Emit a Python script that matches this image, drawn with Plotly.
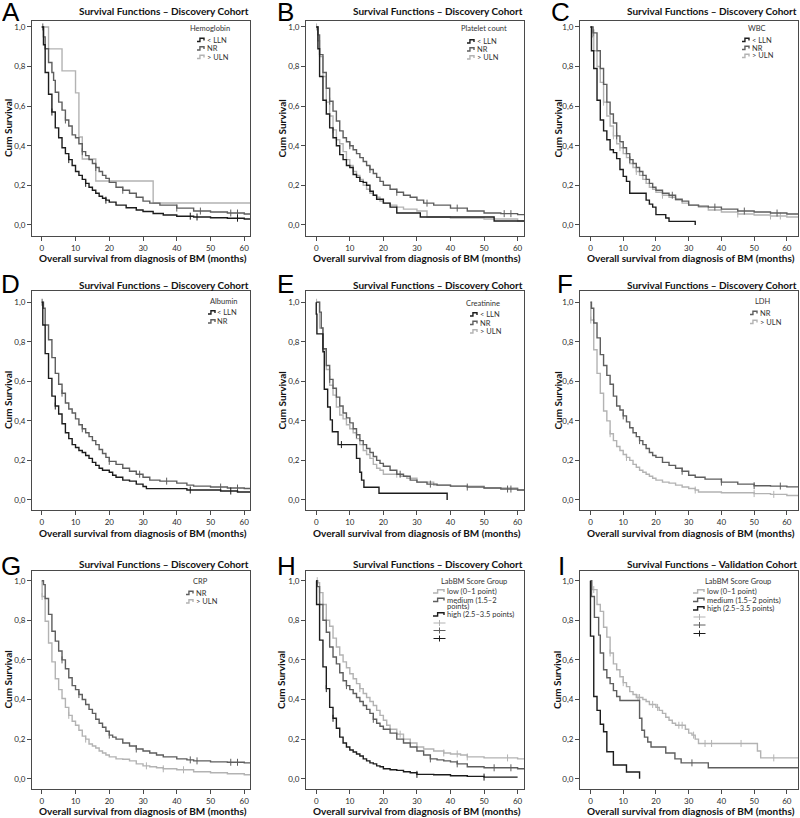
import plotly.graph_objects as go

W, H = 800, 818

# ---------------- data ----------------
Y_TICKS = [0.0, 0.2, 0.4, 0.6, 0.8, 1.0]
Y_TICK_TEXT = ["0,0", "0,2", "0,4", "0,6", "0,8", "1,0"]
X_TICKS = [0, 10, 20, 30, 40, 50, 60]
X_TICK_TEXT = ["0", "10", "20", "30", "40", "50", "60"]

PANEL_LETTERS = ["A", "B", "C", "D", "E", "F", "G", "H", "I"]
PANEL_TITLES = ["Survival Functions – Discovery Cohort"] * 8 + ["Survival Functions – Validation Cohort"]
LEGEND_TITLES = ["Hemoglobin", "Platelet count", "WBC", "Albumin", "Creatinine", "LDH", "CRP",
                 "LabBM Score Group", "LabBM Score Group"]
X_TITLE = "Overall survival from diagnosis of BM (months)"
Y_TITLE = "Cum Survival"

# A - Hemoglobin (t = step times in months, s = cumulative survival, c = censored times)
A_lln_t = [0, 0.5, 1, 2, 3, 4, 5, 6, 7, 8, 9, 10, 11, 12, 13, 14, 15, 16, 17, 18, 19, 20, 22, 25, 28, 30, 33, 36, 40, 45, 50, 55, 60, 63]
A_lln_s = [1.0, 0.91, 0.77, 0.66, 0.57, 0.49, 0.44, 0.39, 0.36, 0.33, 0.30, 0.27, 0.25, 0.23, 0.21, 0.19, 0.175, 0.16, 0.145, 0.135, 0.125, 0.115, 0.10, 0.087, 0.075, 0.068, 0.058, 0.05, 0.044, 0.04, 0.036, 0.034, 0.03, 0.03]
A_lln_c = [3, 8, 13, 19, 44, 46, 58]
A_nr_t = [0, 0.5, 1, 2, 3, 3.5, 4, 5, 6, 7, 8, 9, 10, 11, 12, 13, 14, 15, 16, 17, 18, 19, 20, 22, 24, 26, 28, 30, 32, 35, 40, 45, 50, 55, 60, 63]
A_nr_s = [1.0, 0.95, 0.89, 0.82, 0.77, 0.73, 0.67, 0.62, 0.58, 0.53, 0.50, 0.455, 0.44, 0.41, 0.37, 0.35, 0.33, 0.31, 0.29, 0.27, 0.25, 0.235, 0.215, 0.19, 0.175, 0.16, 0.14, 0.12, 0.11, 0.10, 0.085, 0.07, 0.065, 0.06, 0.055, 0.05]
A_nr_c = [0.3, 7, 12, 16, 24, 40, 47, 56, 58]
A_uln_t = [0, 2, 6, 10, 11, 12, 16, 33, 63]
A_uln_s = [1.0, 0.889, 0.778, 0.667, 0.444, 0.333, 0.222, 0.111, 0.111]
A_uln_c = []

# B - Platelet count
B_lln_t = [0, 0.5, 1, 2, 3, 4, 5, 6, 7, 8, 9, 10, 11, 12, 13, 14, 15, 16, 17, 18, 20, 22, 24, 31, 53, 63]
B_lln_s = [1.0, 0.89, 0.75, 0.63, 0.56, 0.49, 0.44, 0.40, 0.355, 0.33, 0.30, 0.29, 0.255, 0.24, 0.22, 0.215, 0.20, 0.17, 0.15, 0.13, 0.11, 0.09, 0.06, 0.04, 0.02, 0.02]
B_lln_c = []
B_nr_t = [0, 0.5, 1, 2, 3, 4, 5, 6, 7, 8, 9, 10, 11, 12, 13, 14, 15, 16, 17, 18, 19, 20, 22, 24, 26, 28, 30, 32, 35, 40, 45, 50, 55, 60, 63]
B_nr_s = [1.0, 0.96, 0.86, 0.77, 0.69, 0.625, 0.575, 0.525, 0.475, 0.44, 0.42, 0.40, 0.38, 0.36, 0.34, 0.32, 0.30, 0.28, 0.26, 0.24, 0.22, 0.20, 0.18, 0.165, 0.15, 0.14, 0.125, 0.11, 0.10, 0.085, 0.07, 0.06, 0.057, 0.052, 0.05]
B_nr_c = [4, 10, 16, 24, 33, 42, 56, 58]
B_uln_t = [0, 0.5, 1, 2, 3, 4, 5, 6, 7, 8, 9, 10, 11, 12, 13, 14, 15, 16, 17, 18, 19, 20, 22, 24, 26, 30, 33, 40, 50, 60, 63]
B_uln_s = [1.0, 0.93, 0.85, 0.75, 0.62, 0.55, 0.48, 0.43, 0.41, 0.37, 0.33, 0.30, 0.27, 0.25, 0.23, 0.20, 0.18, 0.16, 0.15, 0.14, 0.12, 0.11, 0.10, 0.09, 0.08, 0.07, 0.04, 0.035, 0.03, 0.02, 0.02]
B_uln_c = [0.1, 5]

# C - WBC
C_lln_t = [0, 0.3, 1, 2, 3, 4, 5, 6, 7, 8, 9, 10, 11, 12, 17, 18, 19, 20, 23, 24, 32]
C_lln_s = [1.0, 0.88, 0.79, 0.63, 0.53, 0.475, 0.43, 0.38, 0.365, 0.335, 0.28, 0.245, 0.22, 0.16, 0.125, 0.105, 0.09, 0.052, 0.035, 0.018, 0.0]
C_lln_c = []
C_nr_t = [0, 0.8, 2, 3, 4, 5, 6, 7, 8, 9, 10, 11, 12, 13, 14, 15, 16, 17, 18, 19, 20, 22, 24, 26, 28, 30, 33, 36, 40, 45, 50, 55, 60, 64]
C_nr_s = [1.0, 0.97, 0.88, 0.79, 0.71, 0.62, 0.56, 0.515, 0.45, 0.42, 0.39, 0.36, 0.33, 0.31, 0.29, 0.27, 0.25, 0.23, 0.21, 0.19, 0.175, 0.16, 0.15, 0.13, 0.12, 0.10, 0.095, 0.09, 0.08, 0.07, 0.065, 0.06, 0.055, 0.05]
C_nr_c = [1, 8, 12, 25, 38, 47, 57]
C_uln_t = [0, 0.5, 1, 2, 3, 4, 5, 6, 7, 8, 9, 10, 11, 12, 13, 14, 15, 16, 17, 18, 19, 20, 22, 24, 26, 28, 30, 33, 36, 40, 45, 50, 55, 60, 64]
C_uln_s = [1.0, 0.95, 0.88, 0.80, 0.72, 0.62, 0.55, 0.50, 0.45, 0.41, 0.39, 0.36, 0.34, 0.31, 0.29, 0.27, 0.25, 0.23, 0.21, 0.19, 0.18, 0.165, 0.15, 0.14, 0.125, 0.11, 0.10, 0.09, 0.075, 0.065, 0.055, 0.05, 0.045, 0.04, 0.04]
C_uln_c = [4, 7, 9, 14, 22, 45, 55, 58]

# D - Albumin
D_lln_t = [0, 0.3, 1, 2, 3, 4, 5, 6, 7, 8, 9, 10, 11, 12, 13, 14, 15, 16, 17, 18, 20, 21, 22, 24, 26, 28, 30, 31, 43, 53, 58, 63]
D_lln_s = [1.0, 0.885, 0.74, 0.615, 0.525, 0.475, 0.435, 0.385, 0.34, 0.31, 0.28, 0.265, 0.25, 0.24, 0.225, 0.21, 0.19, 0.175, 0.16, 0.15, 0.14, 0.125, 0.115, 0.10, 0.095, 0.08, 0.068, 0.057, 0.05, 0.045, 0.04, 0.04]
D_lln_c = [4, 44, 56]
D_nr_t = [0, 0.5, 1, 2, 3, 4, 5, 6, 7, 8, 9, 10, 11, 12, 13, 14, 15, 16, 17, 18, 19, 20, 22, 24, 26, 28, 30, 32, 35, 40, 43, 45, 50, 55, 60, 63]
D_nr_s = [1.0, 0.97, 0.885, 0.81, 0.72, 0.64, 0.585, 0.54, 0.49, 0.46, 0.44, 0.41, 0.38, 0.36, 0.34, 0.32, 0.30, 0.28, 0.255, 0.235, 0.215, 0.195, 0.18, 0.16, 0.145, 0.13, 0.115, 0.10, 0.095, 0.085, 0.075, 0.07, 0.065, 0.06, 0.058, 0.055]
D_nr_c = [0.1, 6, 12, 20, 29, 37, 53, 58]

# E - Creatinine
E_lln_t = [0, 0, 0.2, 2, 2.4, 3.4, 4.2, 4.8, 6.5, 12, 13, 13.5, 14.2, 18.7, 39]
E_lln_s = [1.0, 0.94, 0.84, 0.75, 0.56, 0.47, 0.405, 0.345, 0.28, 0.21, 0.14, 0.10, 0.064, 0.034, 0.0]
E_lln_c = [7.5]
E_nr_t = [0, 1, 1.5, 2, 3, 4, 5, 6, 7, 8, 9, 10, 11, 12, 13, 14, 15, 16, 17, 18, 19, 20, 22, 24, 26, 28, 30, 33, 36, 40, 45, 50, 55, 60, 63]
E_nr_s = [1.0, 0.95, 0.87, 0.765, 0.68, 0.61, 0.565, 0.52, 0.475, 0.44, 0.415, 0.39, 0.36, 0.33, 0.30, 0.28, 0.26, 0.24, 0.22, 0.20, 0.185, 0.17, 0.15, 0.13, 0.12, 0.10, 0.09, 0.08, 0.075, 0.07, 0.065, 0.06, 0.055, 0.05, 0.045]
E_nr_c = [4, 12, 25, 34, 45, 57, 58]
E_uln_t = [0, 1, 2, 3, 4, 5, 6, 7, 8, 9, 10, 11, 12, 13, 14, 15, 16, 17, 18, 19, 20, 25, 27, 30, 35, 40, 50, 60, 63]
E_uln_s = [1.0, 0.87, 0.76, 0.66, 0.58, 0.53, 0.47, 0.43, 0.41, 0.38, 0.36, 0.34, 0.31, 0.28, 0.25, 0.23, 0.21, 0.18, 0.16, 0.15, 0.13, 0.12, 0.11, 0.09, 0.075, 0.07, 0.06, 0.05, 0.045]
E_uln_c = [0.1, 24]

# F - LDH
F_nr_t = [0, 0.3, 1, 2, 3, 4, 5, 6, 7, 8, 9, 10, 11, 12, 13, 14, 15, 16, 17, 18, 19, 20, 22, 24, 26, 28, 30, 32, 35, 40, 45, 50, 55, 60, 64]
F_nr_s = [1.0, 0.97, 0.895, 0.82, 0.735, 0.68, 0.63, 0.585, 0.525, 0.475, 0.455, 0.425, 0.395, 0.365, 0.34, 0.32, 0.30, 0.28, 0.26, 0.24, 0.225, 0.215, 0.19, 0.175, 0.16, 0.145, 0.125, 0.115, 0.105, 0.09, 0.08, 0.072, 0.07, 0.066, 0.063]
F_nr_c = [10, 15, 28, 40, 50, 58]
F_uln_t = [0, 0.1, 1, 2, 3, 4, 5, 6, 7, 8, 9, 10, 11, 12, 13, 14, 15, 16, 17, 18, 19, 20, 22, 24, 26, 28, 30, 32, 33, 40, 50, 55, 60, 64]
F_uln_s = [1.0, 0.91, 0.76, 0.64, 0.54, 0.45, 0.40, 0.335, 0.30, 0.27, 0.25, 0.23, 0.215, 0.20, 0.18, 0.165, 0.15, 0.14, 0.13, 0.12, 0.11, 0.10, 0.09, 0.085, 0.075, 0.065, 0.058, 0.05, 0.04, 0.036, 0.032, 0.028, 0.022, 0.02]
F_uln_c = [0.1, 6, 11, 32, 50, 56]

# G - CRP
G_nr_t = [0, 0.5, 1, 2, 3, 4, 5, 6, 7, 8, 9, 10, 11, 12, 13, 14, 15, 16, 17, 18, 19, 20, 21, 22, 24, 26, 28, 30, 32, 34, 36, 40, 43, 45, 50, 55, 60, 63]
G_nr_s = [1.0, 0.98, 0.91, 0.83, 0.745, 0.695, 0.645, 0.60, 0.555, 0.51, 0.47, 0.45, 0.425, 0.40, 0.375, 0.35, 0.33, 0.30, 0.28, 0.26, 0.24, 0.22, 0.21, 0.20, 0.18, 0.165, 0.15, 0.14, 0.13, 0.12, 0.11, 0.10, 0.095, 0.09, 0.085, 0.083, 0.08, 0.075]
G_nr_c = [6, 11, 20, 28, 44, 46, 56, 58]
G_uln_t = [0, 0.1, 1, 2, 3, 4, 5, 6, 7, 8, 9, 10, 11, 12, 13, 14, 15, 16, 17, 18, 19, 20, 22, 24, 26, 28, 30, 32, 34, 36, 40, 45, 50, 55, 60, 63]
G_uln_s = [1.0, 0.92, 0.795, 0.685, 0.59, 0.505, 0.45, 0.405, 0.36, 0.32, 0.29, 0.27, 0.245, 0.215, 0.20, 0.175, 0.165, 0.155, 0.14, 0.13, 0.12, 0.11, 0.10, 0.098, 0.09, 0.075, 0.065, 0.06, 0.055, 0.05, 0.045, 0.035, 0.03, 0.025, 0.02, 0.018]
G_uln_c = [0.1, 8, 13, 31, 36, 42]

# H - LabBM score, discovery
H_low_t = [0, 0.5, 1, 2, 3, 4, 5, 6, 7, 8, 9, 10, 11, 12, 13, 14, 15, 16, 17, 18, 19, 20, 21, 22, 24, 26, 28, 30, 32, 35, 38, 40, 43, 45, 50, 55, 60, 63]
H_low_s = [1.0, 0.99, 0.94, 0.88, 0.80, 0.77, 0.71, 0.665, 0.625, 0.59, 0.56, 0.53, 0.505, 0.48, 0.455, 0.43, 0.41, 0.39, 0.37, 0.345, 0.32, 0.295, 0.27, 0.25, 0.225, 0.20, 0.18, 0.16, 0.15, 0.14, 0.13, 0.125, 0.12, 0.11, 0.105, 0.105, 0.10, 0.10]
H_low_c = [0.3, 3, 13, 25, 38, 42, 45, 57]
H_med_t = [0, 0.3, 1, 2, 3, 4, 5, 6, 7, 8, 9, 10, 11, 12, 13, 14, 15, 16, 17, 18, 19, 20, 22, 24, 26, 28, 30, 32, 34, 36, 38, 40, 42, 45, 50, 55, 60, 63]
H_med_s = [1.0, 0.97, 0.88, 0.80, 0.74, 0.665, 0.615, 0.58, 0.535, 0.495, 0.47, 0.45, 0.43, 0.41, 0.39, 0.37, 0.35, 0.33, 0.30, 0.28, 0.265, 0.25, 0.23, 0.20, 0.18, 0.16, 0.14, 0.12, 0.10, 0.095, 0.09, 0.085, 0.075, 0.06, 0.055, 0.055, 0.05, 0.045]
H_med_c = [1, 9, 17, 34, 42, 53, 58]
H_high_t = [0, 0.1, 1, 2, 3, 4, 5, 6, 7, 8, 9, 10, 11, 12, 13, 14, 15, 16, 17, 18, 19, 20, 22, 24, 26, 28, 30, 35, 40, 45, 50, 60]
H_high_s = [1.0, 0.88, 0.70, 0.565, 0.455, 0.36, 0.305, 0.255, 0.21, 0.18, 0.16, 0.145, 0.135, 0.125, 0.115, 0.10, 0.09, 0.08, 0.075, 0.065, 0.06, 0.05, 0.045, 0.042, 0.035, 0.03, 0.022, 0.02, 0.015, 0.012, 0.008, 0.008]
H_high_c = [3, 5, 30, 50]

# I - LabBM score, validation
I_low_t = [0, 0.5, 2, 3, 4, 5, 6, 7, 8, 9, 10, 11, 12, 13, 14, 16, 17, 18, 20, 21, 22, 23, 24, 25, 26, 29, 30, 31, 32, 33, 51, 52, 64]
I_low_s = [1.0, 0.955, 0.88, 0.845, 0.765, 0.715, 0.635, 0.58, 0.55, 0.515, 0.485, 0.465, 0.44, 0.425, 0.41, 0.40, 0.39, 0.375, 0.36, 0.345, 0.33, 0.31, 0.295, 0.28, 0.27, 0.25, 0.23, 0.22, 0.20, 0.178, 0.14, 0.105, 0.105]
I_low_c = [1, 6, 10, 14.5, 15, 19, 20.5, 27, 28, 31.5, 35, 37, 46, 56]
I_med_t = [0, 0.3, 1.2, 2.5, 3, 4, 5, 6, 7, 8, 9, 15, 15.7, 16.5, 17.5, 18.5, 23, 25.8, 27.7, 36, 64]
I_med_s = [1.0, 0.92, 0.815, 0.725, 0.635, 0.55, 0.51, 0.48, 0.445, 0.415, 0.395, 0.305, 0.245, 0.21, 0.185, 0.16, 0.13, 0.10, 0.08, 0.055, 0.055]
I_med_c = [31]
I_high_t = [0, 0, 1, 2, 3, 4, 5, 7, 11, 15]
I_high_s = [1.0, 0.72, 0.415, 0.345, 0.275, 0.237, 0.136, 0.069, 0.034, 0.0]
I_high_c = []

# ---------------- styling ----------------
BLACK = "#1c1c1c"
DARK = "#5e5e5e"
LIGHT = "#b3b3b3"
AXC = "#4a4a4a"
FONT = "Lato"
TXT = "#333333"

SCORE_H = ["low (0–1 point)", "medium (1.5–2<br>points)", "high (2.5–3.5 points)"]
SCORE_I = ["low (0–1 point)", "medium (1.5–2 points)", "high (2.5–3.5 points)"]

panels = [
    dict(series=[(A_uln_t, A_uln_s, A_uln_c, LIGHT), (A_nr_t, A_nr_s, A_nr_c, DARK), (A_lln_t, A_lln_s, A_lln_c, BLACK)],
         leg=[("< LLN", BLACK), ("NR", DARK), ("> ULN", LIGHT)]),
    dict(series=[(B_uln_t, B_uln_s, B_uln_c, LIGHT), (B_nr_t, B_nr_s, B_nr_c, DARK), (B_lln_t, B_lln_s, B_lln_c, BLACK)],
         leg=[("< LLN", BLACK), ("NR", DARK), ("> ULN", LIGHT)]),
    dict(series=[(C_uln_t, C_uln_s, C_uln_c, LIGHT), (C_nr_t, C_nr_s, C_nr_c, DARK), (C_lln_t, C_lln_s, C_lln_c, BLACK)],
         leg=[("< LLN", BLACK), ("NR", DARK), ("> ULN", LIGHT)]),
    dict(series=[(D_nr_t, D_nr_s, D_nr_c, DARK), (D_lln_t, D_lln_s, D_lln_c, BLACK)],
         leg=[("< LLN", BLACK), ("NR", DARK)]),
    dict(series=[(E_uln_t, E_uln_s, E_uln_c, LIGHT), (E_nr_t, E_nr_s, E_nr_c, DARK), (E_lln_t, E_lln_s, E_lln_c, BLACK)],
         leg=[("< LLN", BLACK), ("NR", DARK), ("> ULN", LIGHT)]),
    dict(series=[(F_uln_t, F_uln_s, F_uln_c, LIGHT), (F_nr_t, F_nr_s, F_nr_c, DARK)],
         leg=[("NR", DARK), ("> ULN", LIGHT)]),
    dict(series=[(G_uln_t, G_uln_s, G_uln_c, LIGHT), (G_nr_t, G_nr_s, G_nr_c, DARK)],
         leg=[("NR", DARK), ("> ULN", LIGHT)]),
    dict(series=[(H_low_t, H_low_s, H_low_c, LIGHT), (H_med_t, H_med_s, H_med_c, DARK), (H_high_t, H_high_s, H_high_c, BLACK)],
         leg=[(SCORE_H[0], LIGHT), (SCORE_H[1], DARK), (SCORE_H[2], BLACK)]),
    dict(series=[(I_low_t, I_low_s, I_low_c, LIGHT), (I_med_t, I_med_s, I_med_c, DARK), (I_high_t, I_high_s, I_high_c, BLACK)],
         leg=[(SCORE_I[0], LIGHT), (SCORE_I[1], DARK), (SCORE_I[2], BLACK)]),
]

# layout geometry (pixels)
COLS = [(32, 250, -2.9, 61.7), (306, 524, -3.05, 61.9), (580, 798, -3.2, 63.4)]
ROWS = [(21, 236, -0.056, 1.030), (291, 510, -0.051, 1.057), (571, 789, -0.052, 1.049)]
LETTER_X = [11, 285, 560, 10, 285, 565, 11, 286, 561]
LETTER_Y = [12, 12, 12, 283.5, 283.5, 283.5, 565.5, 565.5, 565.5]
TITLE_Y = [11, 285, 564]
XTITLE_Y = [258, 533, 811]
YTITLE_X = [7.5, 281, 557]
# legend: title centre x, title y, glyph left x, row ys
LEG = [
    (210, 28.5, 197, [40, 48.5, 57]),
    (484, 29, 467, [41.5, 49.5, 57.5]),
    (756.5, 28.5, 742, [40, 48, 56]),
    (223.5, 301.5, 208, [312.5, 321.5]),
    (483, 303, 470, [314.5, 323, 331.5]),
    (763, 301.5, 750, [313, 322]),
    (201, 581.5, 186, [593, 601.5]),
    (474, 581, 433, [591.5, 600, 614.5]),
    (737.5, 581.5, 693, [591.5, 600, 608.5]),
]
CROSS_Y = {7: [623, 630.5, 638.5], 8: [617, 625, 633.5]}


def px(x):
    return x / W


def py(y):
    return 1 - y / H


def step_value(t, s, x):
    v = s[0]
    for tt, ss in zip(t, s):
        if tt <= x:
            v = ss
        else:
            break
    return v


fig = go.Figure()
annotations = []
shapes = []
BOLD = dict(family=FONT, size=10, color="#111", weight="bold")

for i, p in enumerate(panels):
    r, c = divmod(i, 3)
    bx0, bx1, xr0, xr1 = COLS[c]
    by0, by1, yr0, yr1 = ROWS[r]
    xname = "x" if i == 0 else f"x{i+1}"
    yname = "y" if i == 0 else f"y{i+1}"
    for (t, s, cens, col) in p["series"]:
        fig.add_trace(go.Scatter(x=t, y=s, mode="lines", xaxis=xname, yaxis=yname,
                                 line=dict(shape="hv", color=col, width=1.4),
                                 hoverinfo="skip", showlegend=False))
        if cens:
            fig.add_trace(go.Scatter(x=cens, y=[step_value(t, s, xx) for xx in cens], mode="markers",
                                     xaxis=xname, yaxis=yname, hoverinfo="skip", showlegend=False,
                                     marker=dict(symbol="line-ns", size=5, color=col,
                                                 line=dict(color=col, width=1))))
    common = dict(showline=True, linecolor=AXC, linewidth=1, mirror=True, showgrid=False,
                  zeroline=False, ticks="outside", ticklen=4, tickwidth=1, tickcolor=AXC,
                  tickfont=dict(family=FONT, size=8, color="#2a2a2a"), fixedrange=True)
    fig.layout["xaxis" if i == 0 else f"xaxis{i+1}"] = dict(
        domain=[px(bx0), px(bx1)], range=[xr0, xr1], anchor=yname,
        tickvals=X_TICKS, ticktext=X_TICK_TEXT, **common)
    fig.layout["yaxis" if i == 0 else f"yaxis{i+1}"] = dict(
        domain=[py(by1), py(by0)], range=[yr0, yr1], anchor=xname,
        tickvals=Y_TICKS, ticktext=Y_TICK_TEXT, **common)

    # panel letter (box clipped to the capital height)
    annotations.append(dict(text=PANEL_LETTERS[i], x=px(LETTER_X[i]), y=py(LETTER_Y[i]),
                            xref="paper", yref="paper", xanchor="center", yanchor="middle",
                            height=20, valign="middle", showarrow=False,
                            font=dict(family="Liberation Sans", size=26, color="#000")))
    # title
    annotations.append(dict(text=PANEL_TITLES[i], x=px(bx1 + 1), y=py(TITLE_Y[r]), xref="paper", yref="paper",
                            xanchor="right", yanchor="middle", showarrow=False, font=BOLD))
    # axis titles
    annotations.append(dict(text=X_TITLE, x=px((bx0 + bx1) / 2 + 2), y=py(XTITLE_Y[r]), xref="paper",
                            yref="paper", xanchor="center", yanchor="middle", showarrow=False, font=BOLD))
    annotations.append(dict(text=Y_TITLE, x=px(YTITLE_X[c]), y=py((by0 + by1) / 2), xref="paper",
                            yref="paper", xanchor="center", yanchor="middle", showarrow=False,
                            textangle=-90, font=BOLD))

    # legend
    tcx, tcy, gx, rows_y = LEG[i]
    annotations.append(dict(text=LEGEND_TITLES[i], x=px(tcx), y=py(tcy), xref="paper", yref="paper",
                            xanchor="center", yanchor="middle", showarrow=False,
                            font=dict(family=FONT, size=7.5, color=TXT)))
    wide = i >= 7
    gw = 11 if wide else 7
    for (label, col), yy in zip(p["leg"], rows_y):
        x0 = gx
        xm = x0 + gw * 0.42
        x1 = x0 + gw
        path = (f"M {px(x0)},{py(yy + 1.5)} L {px(xm)},{py(yy + 1.5)} L {px(xm)},{py(yy - 1.8)} "
                f"L {px(x1)},{py(yy - 1.8)} L {px(x1)},{py(yy + 0.5)}")
        shapes.append(dict(type="path", path=path, xref="paper", yref="paper",
                           line=dict(color=col, width=1.4)))
        lines = label.split("<br>")
        annotations.append(dict(text=lines[0], x=px(x1 + 0.5), y=py(yy), xref="paper", yref="paper",
                                xanchor="left", yanchor="middle", showarrow=False,
                                font=dict(family=FONT, size=7.5, color=TXT)))
        if len(lines) > 1:
            annotations.append(dict(text=lines[1], x=px(x1 + 0.5), y=py(yy + 6.5), xref="paper",
                                    yref="paper", xanchor="left", yanchor="middle", showarrow=False,
                                    font=dict(family=FONT, size=7.5, color=TXT)))
    if i in CROSS_Y:
        for (label, col), yy in zip(p["leg"], CROSS_Y[i]):
            cx = gx + gw / 2 + 1
            shapes.append(dict(type="line", xref="paper", yref="paper", x0=px(cx - 6), x1=px(cx + 6),
                               y0=py(yy), y1=py(yy), line=dict(color=col, width=1)))
            shapes.append(dict(type="line", xref="paper", yref="paper", x0=px(cx), x1=px(cx),
                               y0=py(yy - 3), y1=py(yy + 3), line=dict(color=col, width=1)))

fig.update_layout(width=W, height=H, margin=dict(l=0, r=0, t=0, b=0), plot_bgcolor="white",
                  paper_bgcolor="white", showlegend=False, annotations=annotations, shapes=shapes)

fig.write_html("out.html", config={"displayModeBar": False},
               post_script="document.body.style.margin='0';document.body.style.overflow='hidden';")
